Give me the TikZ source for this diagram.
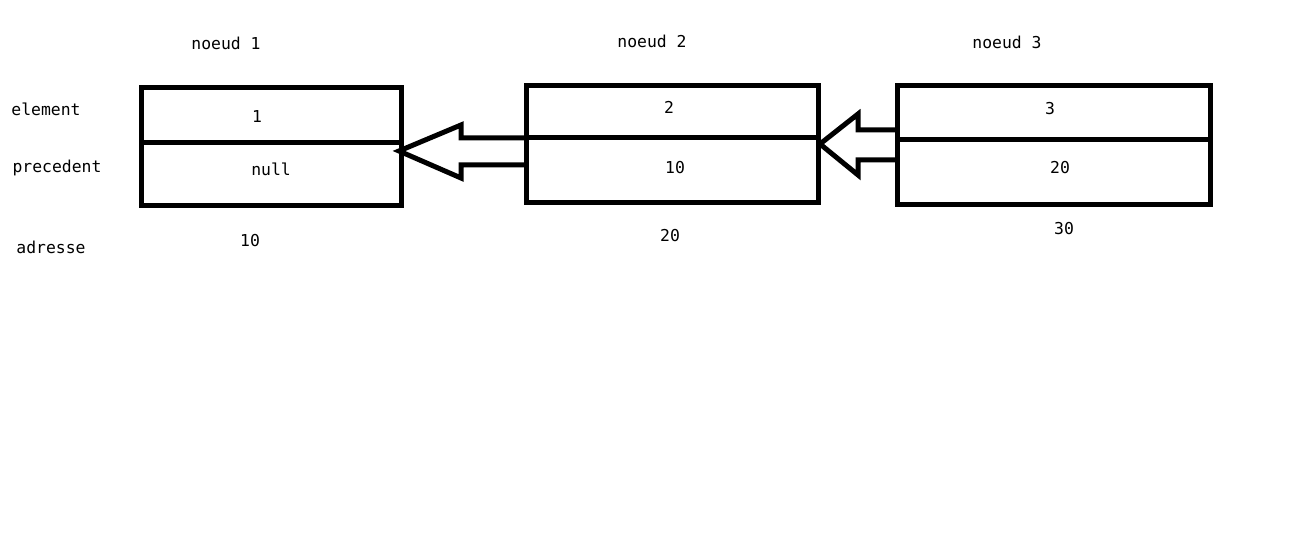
\documentclass[tikz,border=0pt]{standalone}
\usepackage{fontspec}
\setmonofont{DejaVu Sans Mono}
\begin{document}
\begin{tikzpicture}[x=0.5pt,y=-0.5pt,
  lbl/.style={font=\ttfamily\fontsize{8.2pt}{10pt}\selectfont, inner sep=0pt, anchor=center},
  thick line/.style={line width=2.5pt},
  boxnode/.style={draw, line width=2.5pt, inner sep=0pt, outer sep=0pt, rectangle}]
\useasboundingbox (0,0) rectangle (1309,549);
% boxes
\node[boxnode, minimum width=130pt, minimum height=59pt] (b1) at (271,147) {};
\node[boxnode, minimum width=146pt, minimum height=58.5pt] (b2) at (672,144.5) {};
\node[boxnode, minimum width=156.5pt, minimum height=59.5pt] (b3) at (1053.5,145.5) {};
% dividers
\coordinate (d1l) at (141,143); \coordinate (d1r) at (401,143);
\coordinate (d2l) at (526,138); \coordinate (d2r) at (818,138);
\coordinate (d3l) at (897,140); \coordinate (d3r) at (1213,140);
\draw[thick line] (d1l) -- (d1r);
\draw[thick line] (d2l) -- (d2r);
\draw[thick line] (d3l) -- (d3r);
% arrows
\coordinate (a1s1) at (526,138); \coordinate (a1s2) at (526,165);
\coordinate (a1t) at (399,151);
\draw[thick line] (a1s1) -- (461,138) -- (461,125) -- (a1t) -- (461,178) -- (461,165) -- (a1s2);
\coordinate (a2s1) at (897,130); \coordinate (a2s2) at (897,160);
\coordinate (a2t) at (820,144);
\draw[thick line] (a2s1) -- (858,130) -- (858,114) -- (a2t) -- (858,175) -- (858,160) -- (a2s2);
% labels
\node[lbl] (n1) at (226,43) {noeud 1};
\node[lbl] (n2) at (652,41) {noeud 2};
\node[lbl] (n3) at (1007,42) {noeud 3};
\node[lbl] (le) at (46,109) {element};
\node[lbl] (lp) at (57,168) {precedent};
\node[lbl] (la) at (51,247) {adresse};
\node[lbl] (e1) at (257,117) {1};
\node[lbl] (p1) at (271,169) {null};
\node[lbl] (ad1) at (250,241) {10};
\node[lbl] (e2) at (669,107) {2};
\node[lbl] (p2) at (675,168) {10};
\node[lbl] (ad2) at (670,236) {20};
\node[lbl] (e3) at (1050,109) {3};
\node[lbl] (p3) at (1060,168) {20};
\node[lbl] (ad3) at (1064,229) {30};
\end{tikzpicture}
\end{document}
